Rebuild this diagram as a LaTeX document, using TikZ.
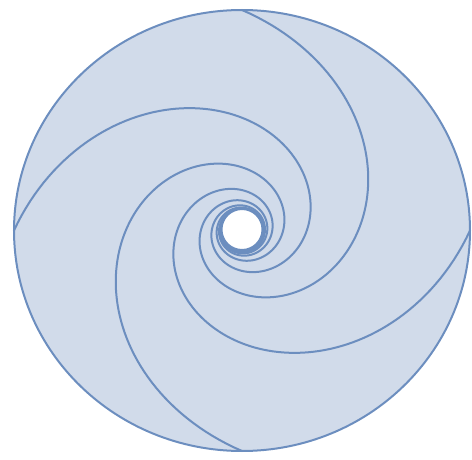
\documentclass[tikz,border=0pt]{standalone}
\definecolor{diskfill}{HTML}{D1DBEA}
\definecolor{diskline}{HTML}{6C8EBF}
\tikzset{
  disk/.style={fill=diskfill, draw=diskline, line width=2pt},
  arm/.style={draw=diskline, line width=2pt, line join=round},
  hole/.style={fill=white, draw=diskline, line width=2pt}
}
\begin{document}
\begin{tikzpicture}[x=1pt, y=-1pt]
  \useasboundingbox (0,0) rectangle (472,460);
  \path[disk] (242,230.5) ellipse [x radius=228, y radius=220.5];
  \foreach \p in {0,90,180,270}{
    \draw[arm] plot[domain=0:1080, samples=540, variable=\t]
      ({242+(21+207*pow(0.46,\t/90))*cos(\p-\t)},
       {230.5-(21+199.5*pow(0.46,\t/90))*sin(\p-\t)});
  }
  \path[hole] (242,229.5) circle [radius=20.5];
\end{tikzpicture}
\end{document}
